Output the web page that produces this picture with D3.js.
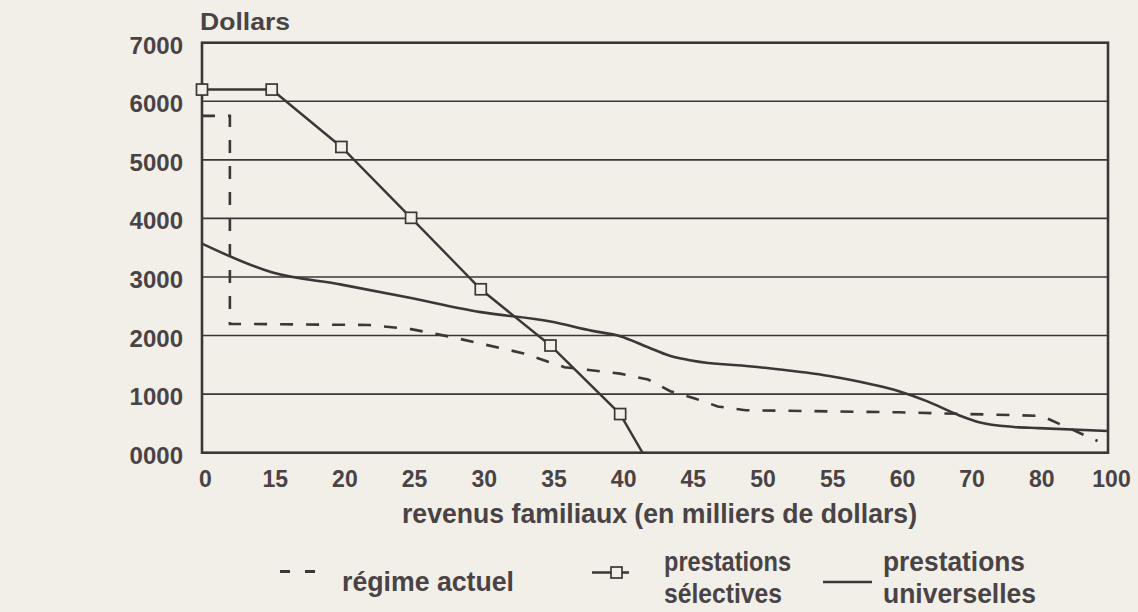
<!DOCTYPE html>
<html>
<head>
<meta charset="utf-8">
<script src="https://cdn.jsdelivr.net/npm/d3@7"></script>
<style>
  html, body { margin: 0; padding: 0; background: #f1efe8; }
  svg { display: block; }
  text { font-family: "Liberation Sans", Arial, Helvetica, sans-serif; font-weight: bold; fill: #4a4345; }
</style>
</head>
<body>
<svg id="chart" width="1138" height="612"></svg>
<script>
// ---------- data ----------
const xValues = [0, 15, 20, 25, 30, 35, 40, 45, 50, 55, 60, 70, 80, 100];
const xLabels = ["0", "15", "20", "25", "30", "35", "40", "45", "50", "55", "60", "70", "80", "100"];
const yTicks  = [0, 1000, 2000, 3000, 4000, 5000, 6000, 7000];
const yLabels = ["0000", "1000", "2000", "3000", "4000", "5000", "6000", "7000"];

// régime actuel (dashed)
const regimeIncome = [0, 6, 6, 22, 25, 28, 33, 36, 40, 42, 43.6, 45.3, 47, 49, 60, 70, 80, 82, 97];
const regimeValue  = [5750, 5750, 2200, 2180, 2110, 1970, 1700, 1460, 1350, 1250, 1050, 930, 790, 725, 690, 660, 630, 600, 200];

// prestations sélectives (line with square markers)
const selectIncome = [0, 15, 20, 25, 30, 35, 40, 41.6];
const selectValue  = [6200, 6200, 5220, 4010, 2790, 1830, 660, 0];
const selectMarked = [true, true, true, true, true, true, true, false];

// prestations universelles (solid)
const univIncome = [0, 15, 20, 25, 30, 35, 38, 40, 42, 43.5, 45, 50, 55, 58, 60, 64, 68.6, 71.5, 76.5, 80, 100];
const univValue  = [3570, 3080, 2870, 2640, 2400, 2240, 2080, 1990, 1800, 1660, 1580, 1460, 1310, 1170, 1050, 880, 640, 520, 440, 420, 370];

const legendItems = ["régime actuel", "prestations", "sélectives", "prestations", "universelles"];
const yTitle = "Dollars";
const xTitle = "revenus familiaux (en milliers de dollars)";

// ---------- layout ----------
const INK = "#3d3537";
const PAPER = "#f1efe8";
const plotL = 202, plotR = 1108, plotT = 42.7, plotB = 452.7;
const svg = d3.select("#chart");

const x = d3.scaleLinear()
  .domain(xValues)
  .range(xValues.map((d, i) => plotL + i * (plotR - plotL) / (xValues.length - 1)));
const y = d3.scaleLinear().domain([0, 7000]).range([plotB, plotT]);

// gridlines
svg.append("g").selectAll("line")
  .data(yTicks.filter(v => v > 0 && v < 7000))
  .join("line")
  .attr("x1", plotL).attr("x2", plotR)
  .attr("y1", d => y(d)).attr("y2", d => y(d))
  .attr("stroke", INK).attr("stroke-width", 1.6);

// frame
svg.append("rect")
  .attr("x", plotL).attr("y", plotT)
  .attr("width", plotR - plotL).attr("height", plotB - plotT)
  .attr("fill", "none").attr("stroke", INK).attr("stroke-width", 2.6);

// y axis labels
const yAxis = d3.axisLeft(y).tickValues(yTicks)
  .tickFormat((d, i) => yLabels[i]).tickSize(0).tickPadding(19);
const gy = svg.append("g").attr("transform", `translate(${plotL},0)`).call(yAxis);
gy.select(".domain").remove();
gy.selectAll("text")
  .attr("dy", null).attr("y", 10.5)
  .style("font-size", "24px").style("font-family", "'Liberation Sans', Arial, sans-serif")
  .style("font-weight", "bold").attr("fill", "#4a4345");

// x axis labels
const xAxis = d3.axisBottom(x).tickValues(xValues)
  .tickFormat((d, i) => xLabels[i]).tickSize(0);
const gx = svg.append("g").attr("transform", `translate(3,${plotB})`).call(xAxis);
gx.select(".domain").remove();
gx.selectAll("text")
  .attr("dy", null).attr("y", 34)
  .style("font-size", "23px").style("font-family", "'Liberation Sans', Arial, sans-serif")
  .style("font-weight", "bold").attr("fill", "#4a4345");

// titles
svg.append("text").attr("x", 200).attr("y", 30)
  .attr("textLength", 90).attr("lengthAdjust", "spacingAndGlyphs")
  .style("font-size", "24px").text(yTitle);
svg.append("text").attr("x", 402).attr("y", 523)
  .attr("textLength", 515).attr("lengthAdjust", "spacingAndGlyphs")
  .style("font-size", "28px").text(xTitle);

// series lines
const lineLin = d3.line().x(d => x(d[0])).y(d => y(d[1]));
const lineSmooth = d3.line().x(d => x(d[0])).y(d => y(d[1])).curve(d3.curveMonotoneX);

const regimeData = regimeIncome.map((v, i) => [v, regimeValue[i]]);
const selectData = selectIncome.map((v, i) => [v, selectValue[i]]);
const univData = univIncome.map((v, i) => [v, univValue[i]]);

svg.append("path").datum(univData)
  .attr("d", lineSmooth).attr("fill", "none")
  .attr("stroke", INK).attr("stroke-width", 2.6);

svg.append("path").datum(regimeData)
  .attr("d", lineLin).attr("fill", "none")
  .attr("stroke", INK).attr("stroke-width", 2.6)
  .attr("stroke-dasharray", "13,13");

svg.append("path").datum(selectData)
  .attr("d", lineLin).attr("fill", "none")
  .attr("stroke", INK).attr("stroke-width", 2.4);

svg.append("g").selectAll("rect")
  .data(selectData.filter((d, i) => selectMarked[i]))
  .join("rect")
  .attr("x", d => x(d[0]) - 5.5).attr("y", d => y(d[1]) - 5.5)
  .attr("width", 11).attr("height", 11)
  .attr("fill", PAPER).attr("stroke", INK).attr("stroke-width", 1.7);

// ---------- legend ----------
const lg = svg.append("g");
// régime actuel
lg.append("line").attr("x1", 280).attr("x2", 315).attr("y1", 571.5).attr("y2", 571.5)
  .attr("stroke", INK).attr("stroke-width", 2.8).attr("stroke-dasharray", "10,15");
lg.append("text").attr("x", 342).attr("y", 591)
  .attr("textLength", 172).attr("lengthAdjust", "spacingAndGlyphs")
  .style("font-size", "28px").text(legendItems[0]);
// sélectives
lg.append("line").attr("x1", 592).attr("x2", 629).attr("y1", 572.5).attr("y2", 572.5)
  .attr("stroke", INK).attr("stroke-width", 2.4);
lg.append("rect").attr("x", 611).attr("y", 567).attr("width", 11).attr("height", 11)
  .attr("fill", PAPER).attr("stroke", INK).attr("stroke-width", 1.7);
lg.append("text").attr("x", 664).attr("y", 571)
  .attr("textLength", 127).attr("lengthAdjust", "spacingAndGlyphs")
  .style("font-size", "28px").text(legendItems[1]);
lg.append("text").attr("x", 664).attr("y", 603)
  .attr("textLength", 118).attr("lengthAdjust", "spacingAndGlyphs")
  .style("font-size", "28px").text(legendItems[2]);
// universelles
lg.append("line").attr("x1", 823).attr("x2", 872).attr("y1", 582).attr("y2", 582)
  .attr("stroke", INK).attr("stroke-width", 2.6);
lg.append("text").attr("x", 883).attr("y", 571)
  .attr("textLength", 142).attr("lengthAdjust", "spacingAndGlyphs")
  .style("font-size", "28px").text(legendItems[3]);
lg.append("text").attr("x", 883).attr("y", 603)
  .attr("textLength", 153).attr("lengthAdjust", "spacingAndGlyphs")
  .style("font-size", "28px").text(legendItems[4]);
</script>
</body>
</html>
